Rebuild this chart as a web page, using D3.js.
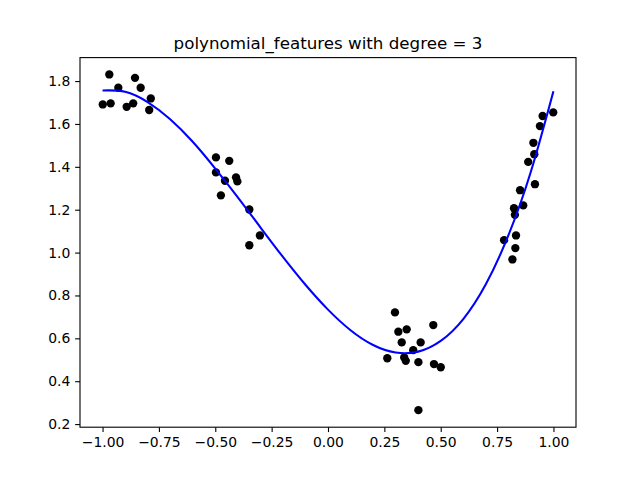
<!DOCTYPE html>
<html>
<head>
<meta charset="utf-8">
<script src="https://cdn.jsdelivr.net/npm/d3@7"></script>
<style>
  html, body { margin: 0; padding: 0; background: #ffffff; }
  svg { display: block; }
  text { font-family: "DejaVu Sans", sans-serif; fill: #000; }
</style>
</head>
<body>
<script>
// ---- data ----
const titleText = "polynomial_features with degree = 3";

const pointX = [
  -0.970, -0.856, -0.930, -0.831, -0.786, -0.999, -0.964, -0.893, -0.864, -0.793,
  -0.497, -0.438, -0.497, -0.457, -0.408, -0.402, -0.475, -0.349, -0.302, -0.349,
   0.297,  0.467,  0.312,  0.349,  0.327,  0.411,  0.378,  0.263,  0.338,  0.345,
   0.401,  0.470,  0.500,  0.401,
   0.999,  0.952,  0.940,  0.911,  0.915,  0.888,  0.918,  0.852,  0.866,  0.825,
   0.829,  0.781,  0.834,  0.831,  0.818
];
const pointY = [
   1.831,  1.815,  1.769,  1.769,  1.719,  1.691,  1.696,  1.680,  1.696,  1.665,
   1.444,  1.428,  1.374,  1.335,  1.351,  1.332,  1.267,  1.201,  1.080,  1.034,
   0.721,  0.662,  0.631,  0.642,  0.581,  0.581,  0.545,  0.507,  0.511,  0.495,
   0.489,  0.480,  0.465,  0.265,
   1.654,  1.637,  1.590,  1.512,  1.459,  1.423,  1.319,  1.291,  1.220,  1.207,
   1.176,  1.058,  1.080,  1.021,  0.968
];

// fitted curve, read (and smoothed by eye) from the picture
const curveX = [
  -1.0, -0.9, -0.8, -0.7, -0.6, -0.5, -0.4, -0.3, -0.2, -0.1,
   0.0,  0.1,  0.2,  0.3,  0.4,  0.5,  0.6,  0.7,  0.8,  0.9, 1.0
];
const curveY = [
   1.756, 1.750, 1.702, 1.622, 1.517, 1.392, 1.258, 1.118, 0.980, 0.850,
   0.734, 0.638, 0.569, 0.534, 0.538, 0.588, 0.690, 0.852, 1.080, 1.378, 1.753
];

const xTicks = [-1.00, -0.75, -0.50, -0.25, 0.00, 0.25, 0.50, 0.75, 1.00];
const yTicks = [0.2, 0.4, 0.6, 0.8, 1.0, 1.2, 1.4, 1.6, 1.8];

// ---- layout (matplotlib defaults at 640x480) ----
const W = 640, H = 480;
const mLeft = 80, mRight = 576, mTop = 57.6, mBottom = 427.2;
const tickLen = 4.86, tickPad = 4.86;

const svg = d3.select("body").append("svg")
  .attr("width", W).attr("height", H);

svg.append("rect").attr("width", W).attr("height", H).attr("fill", "#fff");

const x = d3.scaleLinear().domain([-1.1, 1.1]).range([mLeft, mRight]);
const y = d3.scaleLinear().domain([0.1855, 1.9095]).range([mBottom, mTop]);

const fmtMinus = s => s.replace("-", "\u2212");

// scatter
const pts = pointX.map((v, i) => ({x: v, y: pointY[i]}));
svg.append("g").selectAll("circle").data(pts).join("circle")
  .attr("cx", d => x(d.x))
  .attr("cy", d => y(d.y))
  .attr("r", 4.17)
  .attr("fill", "#000");

// fitted curve
const cpts = curveX.map((v, i) => ({x: v, y: curveY[i]}));
svg.append("path")
  .datum(cpts)
  .attr("fill", "none")
  .attr("stroke", "#0000ff")
  .attr("stroke-width", 2.08)
  .attr("d", d3.line().x(d => x(d.x)).y(d => y(d.y)).curve(d3.curveNatural));

// axes
const xAxis = d3.axisBottom(x).tickValues(xTicks)
  .tickFormat(d => fmtMinus(d3.format(".2f")(d)))
  .tickSizeInner(tickLen).tickSizeOuter(0).tickPadding(tickPad);
const yAxis = d3.axisLeft(y).tickValues(yTicks)
  .tickFormat(d => d3.format(".1f")(d))
  .tickSizeInner(tickLen).tickSizeOuter(0).tickPadding(tickPad);

const gx = svg.append("g").attr("transform", `translate(0,${mBottom})`).call(xAxis);
const gy = svg.append("g").attr("transform", `translate(${mLeft},0)`).call(yAxis);
[gx, gy].forEach(g => {
  g.select(".domain").remove();
  g.selectAll(".tick line").attr("stroke", "#000").attr("stroke-width", 1.1);
  g.selectAll(".tick text")
    .attr("font-family", "DejaVu Sans, sans-serif")
    .attr("font-size", "13.9px")
    .attr("fill", "#000");
});

// frame
svg.append("rect")
  .attr("x", mLeft).attr("y", mTop)
  .attr("width", mRight - mLeft).attr("height", mBottom - mTop)
  .attr("fill", "none").attr("stroke", "#000").attr("stroke-width", 1.1);

// title
svg.append("text")
  .attr("x", (mLeft + mRight) / 2)
  .attr("y", mTop - 8.3)
  .attr("text-anchor", "middle")
  .attr("font-size", "16.7px")
  .text(titleText);
</script>
</body>
</html>
